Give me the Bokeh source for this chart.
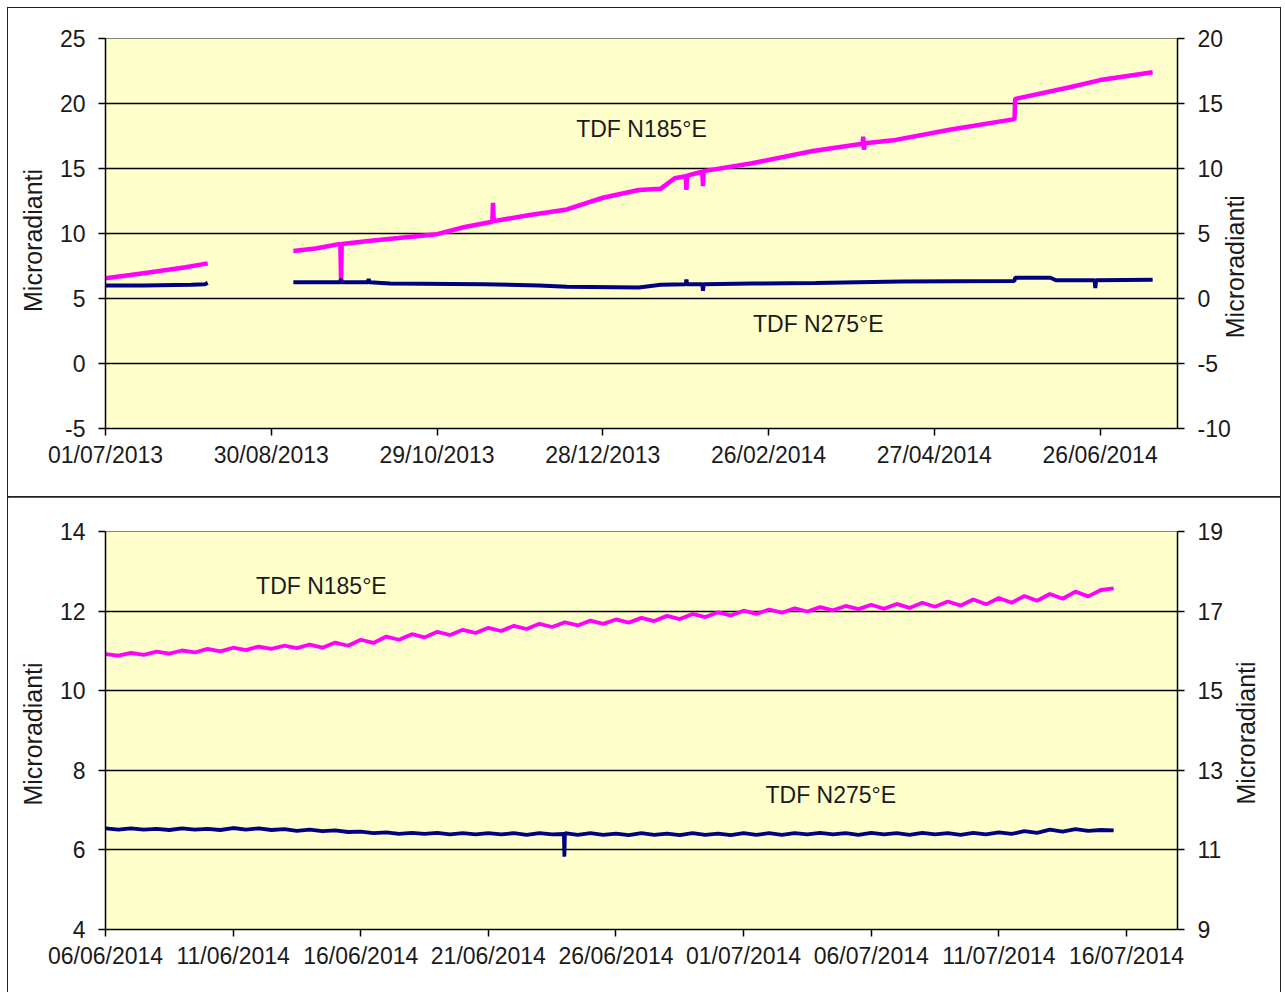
import math
import numpy as np
import pandas as pd
from bokeh.plotting import figure
from bokeh.models import (Range1d, LinearAxis, FixedTicker, DatetimeTickFormatter, Label,
                          ColumnDataSource, Spacer)
from bokeh.layouts import column, row
from bokeh.embed import file_html
from bokeh.resources import INLINE

nan = float("nan")

# ---------------- data: top panel (01/07/2013 - 15/07/2014) ----------------
top_tick_labels = ["01/07/2013", "30/08/2013", "29/10/2013", "28/12/2013",
                   "26/02/2014", "27/04/2014", "26/06/2014"]
top_left_ticks = [-5, 0, 5, 10, 15, 20, 25]
top_right_ticks = [-10, -5, 0, 5, 10, 15, 20]

top_n185_dates = ["2013-07-01", "2013-07-10", "2013-07-20", "2013-07-30", "2013-08-07",
                  "2013-08-08",
                  "2013-09-07", "2013-09-15", "2013-09-24 00:00", "2013-09-24 06:00", "2013-09-24 12:00",
                  "2013-10-05", "2013-10-15", "2013-10-29", "2013-11-08",
                  "2013-11-18 00:00", "2013-11-18 06:00", "2013-11-18 12:00",
                  "2013-12-01", "2013-12-15", "2013-12-28", "2014-01-10", "2014-01-18", "2014-01-23",
                  "2014-01-27 00:00", "2014-01-27 06:00", "2014-01-27 12:00",
                  "2014-02-02 00:00", "2014-02-02 06:00", "2014-02-02 12:00",
                  "2014-02-20", "2014-03-14",
                  "2014-04-01 00:00", "2014-04-01 06:00", "2014-04-01 12:00", "2014-04-01 18:00",
                  "2014-04-13", "2014-05-03", "2014-05-26 00:00", "2014-05-26 06:00",
                  "2014-06-15", "2014-06-26", "2014-07-15"]
top_n185_vals = [6.55, 6.8, 7.1, 7.4, 7.7,
                 nan,
                 8.65, 8.85, 9.2, 6.4, 9.2,
                 9.45, 9.65, 9.95, 10.5,
                 10.9, 12.35, 10.95,
                 11.4, 11.85, 12.75, 13.35, 13.45, 14.25,
                 14.4, 13.35, 14.45,
                 14.75, 13.65, 14.8,
                 15.4, 16.35,
                 16.9, 17.45, 16.45, 16.95,
                 17.2, 18.0, 18.8, 20.35,
                 21.25, 21.8, 22.4]

top_n275_dates = ["2013-07-01", "2013-07-15", "2013-08-01", "2013-08-06", "2013-08-07",
                  "2013-08-08",
                  "2013-09-07", "2013-09-24 00:00", "2013-09-24 06:00", "2013-09-24 12:00",
                  "2013-10-04 00:00", "2013-10-04 06:00", "2013-10-04 12:00",
                  "2013-10-12", "2013-11-15", "2013-12-05", "2013-12-15", "2014-01-10", "2014-01-18",
                  "2014-01-27 00:00", "2014-01-27 06:00", "2014-01-27 12:00",
                  "2014-02-02 00:00", "2014-02-02 06:00", "2014-02-02 12:00",
                  "2014-02-20", "2014-03-15", "2014-04-15", "2014-05-26 00:00", "2014-05-26 06:00",
                  "2014-06-08", "2014-06-10",
                  "2014-06-24 00:00", "2014-06-24 06:00", "2014-06-24 12:00", "2014-07-15"]
top_n275_vals = [1.0, 1.0, 1.05, 1.1, 1.2,
                 nan,
                 1.25, 1.25, 1.5, 1.25,
                 1.25, 1.5, 1.25,
                 1.15, 1.1, 1.0, 0.9, 0.85, 1.05,
                 1.1, 1.45, 1.1,
                 1.1, 0.6, 1.1,
                 1.15, 1.2, 1.3, 1.35, 1.6,
                 1.6, 1.4,
                 1.4, 0.8, 1.4, 1.45]

# ---------------- data: bottom panel (06/06/2014 - 15/07/2014, every 12 h) ----------------
bot_tick_labels = ["06/06/2014", "11/06/2014", "16/06/2014", "21/06/2014", "26/06/2014",
                   "01/07/2014", "06/07/2014", "11/07/2014", "16/07/2014"]
bot_left_ticks = [4, 6, 8, 10, 12, 14]
bot_right_ticks = [9, 11, 13, 15, 17, 19]
bot_start = "2014-06-06 00:00"

bot_n185_vals = [10.92, 10.88, 10.95, 10.90, 10.98, 10.93, 11.01, 10.96, 11.05, 10.99,
                 11.08, 11.02, 11.11, 11.05, 11.13, 11.07, 11.16, 11.08, 11.21, 11.13,
                 11.28, 11.20, 11.36, 11.28, 11.42, 11.34, 11.48, 11.40, 11.53, 11.45,
                 11.58, 11.50, 11.63, 11.55, 11.68, 11.60, 11.72, 11.64, 11.76, 11.68,
                 11.79, 11.71, 11.83, 11.75, 11.88, 11.80, 11.93, 11.85, 11.97, 11.89,
                 12.01, 11.93, 12.04, 11.96, 12.07, 11.99, 12.10, 12.02, 12.13, 12.05,
                 12.16, 12.06, 12.18, 12.08, 12.21, 12.11, 12.24, 12.14, 12.29, 12.17,
                 12.33, 12.21, 12.38, 12.26, 12.43, 12.31, 12.49, 12.37, 12.53, 12.57]

bot_n275_vals = [11.54, 11.51, 11.54, 11.51, 11.53, 11.50, 11.54, 11.51, 11.53, 11.50,
                 11.55, 11.51, 11.54, 11.50, 11.52, 11.48, 11.51, 11.47, 11.49, 11.45,
                 11.46, 11.42, 11.44, 11.40, 11.43, 11.40, 11.43, 11.39, 11.42, 11.39,
                 11.42, 11.39, 11.42, 11.38, 11.42, 11.39, 11.42, 11.38, 11.42, 11.38,
                 11.41, 11.37, 11.42, 11.38, 11.41, 11.37, 11.42, 11.38, 11.41, 11.37,
                 11.42, 11.38, 11.42, 11.38, 11.42, 11.39, 11.43, 11.39, 11.42, 11.38,
                 11.43, 11.39, 11.42, 11.38, 11.43, 11.39, 11.42, 11.38, 11.43, 11.39,
                 11.44, 11.40, 11.47, 11.43, 11.51, 11.46, 11.52, 11.48, 11.50, 11.49]
bot_n275_spike_dates = ["2014-06-23 23:00", "2014-06-23 23:30"]
bot_n275_spike_vals = [11.40, 10.83]

AXIS_TITLE = "Microradianti"

# ---------------- styling ----------------
FONT = "Liberation Sans"
TXT = "#1a1a1a"
BG = "#FFFFCC"
MAGENTA = "#FF00FF"
NAVY = "#000080"
FS = "23px"
FS_TITLE = "25px"
NB = "\u00a0"   # padding used to nudge an axis title along its axis


def to_dt(strings, fmt="ISO8601"):
    return list(pd.to_datetime(strings, format=fmt))


def ms(strings, fmt="ISO8601"):
    return [(t - pd.Timestamp("1970-01-01")) / pd.Timedelta(milliseconds=1)
            for t in to_dt(strings, fmt)]


def style_axis(ax, ticks):
    ax.ticker = FixedTicker(ticks=ticks)
    ax.axis_line_color = "black"
    ax.axis_line_width = 1.5
    ax.major_tick_line_color = "black"
    ax.major_tick_line_width = 1.5
    ax.major_tick_out = 7
    ax.major_tick_in = 0
    ax.minor_tick_line_color = None
    ax.major_label_text_font = FONT
    ax.major_label_text_font_size = FS
    ax.major_label_text_color = TXT
    ax.axis_label_text_font = FONT
    ax.axis_label_text_font_size = FS_TITLE
    ax.axis_label_text_font_style = "normal"
    ax.axis_label_text_color = TXT


def hyphen_overrides(ticks):
    return {t: "-%d" % abs(t) for t in ticks if t < 0}


def make_panel(width, height, borders, xr, yr, yr2, lticks, rticks, xtick_labels,
               lstand, lpad, right_title, css):
    p = figure(width=width, height=height, x_axis_type="datetime",
               output_backend="svg", toolbar_location=None,
               x_range=Range1d(*xr), y_range=Range1d(*yr),
               min_border_left=borders[0], min_border_right=borders[1],
               min_border_top=borders[2], min_border_bottom=borders[3])
    p.extra_y_ranges = {"r": Range1d(*yr2)}
    p.background_fill_color = BG
    p.border_fill_color = "white"
    p.outline_line_color = "#8a8a70"
    p.outline_line_width = 1
    p.xgrid.grid_line_color = None
    p.ygrid.grid_line_color = "black"
    p.ygrid.grid_line_width = 1.5
    p.ygrid.ticker = FixedTicker(ticks=lticks)

    xa = p.xaxis[0]
    style_axis(xa, ms(xtick_labels, "%d/%m/%Y"))
    xa.formatter = DatetimeTickFormatter(
        milliseconds="%d/%m/%Y", seconds="%d/%m/%Y", minsec="%d/%m/%Y", minutes="%d/%m/%Y",
        hourmin="%d/%m/%Y", hours="%d/%m/%Y", days="%d/%m/%Y", months="%d/%m/%Y",
        years="%d/%m/%Y")
    xa.major_label_standoff = 6

    ya = p.yaxis[0]
    style_axis(ya, lticks)
    ya.major_label_overrides = hyphen_overrides(lticks)
    ya.axis_label = AXIS_TITLE + NB * lpad
    ya.major_label_standoff = 13
    ya.axis_label_standoff = lstand

    ra = LinearAxis(y_range_name="r")
    style_axis(ra, rticks)
    ra.major_label_overrides = hyphen_overrides(rticks)
    ra.major_label_standoff = 13
    if "axis_label_align" in LinearAxis.properties():
        # title reads bottom-to-top, anchored at the bottom of the axis and padded upward
        ra.axis_label_orientation = math.pi / 2
        ra.axis_label_align = "start"
        ra.axis_label = NB * right_title["start_pad"] + AXIS_TITLE
        ra.axis_label_standoff = right_title["start_standoff"]
    else:
        ra.axis_label = NB * right_title["center_pad"] + AXIS_TITLE
        ra.axis_label_standoff = right_title["center_standoff"]
    p.add_layout(ra, "right")
    p.styles = css
    return p


# top panel
p1 = make_panel(1272, 489, (97, 103, 30, 69),
                (ms(["2013-07-01"])[0], ms(["2014-07-24"])[0]), (-5, 25), (-10, 20),
                top_left_ticks, top_right_ticks, top_tick_labels, 10, 2,
                dict(start_pad=13, start_standoff=1, center_pad=11, center_standoff=-12),
                {"outline": "1px solid #222"})
src1a = ColumnDataSource(dict(x=to_dt(top_n185_dates), y=top_n185_vals))
src1b = ColumnDataSource(dict(x=to_dt(top_n275_dates), y=top_n275_vals))
p1.line("x", "y", source=src1a, line_color=MAGENTA, line_width=4.5)
p1.line("x", "y", source=src1b, line_color=NAVY, line_width=4.0, y_range_name="r")
p1.add_layout(Label(x=ms(["2014-01-11"])[0], y=18.07, text="TDF N185°E",
                    text_align="center", text_baseline="middle", text_font=FONT,
                    text_font_size=FS, text_color=TXT))
p1.add_layout(Label(x=ms(["2014-03-16"])[0], y=-1.93, y_range_name="r", text="TDF N275°E",
                    text_align="center", text_baseline="middle", text_font=FONT,
                    text_font_size=FS, text_color=TXT))

# bottom panel
bot_times = list(pd.date_range(bot_start, periods=len(bot_n185_vals), freq="12h"))
n275_t = bot_times + to_dt(bot_n275_spike_dates)
n275_v = bot_n275_vals + bot_n275_spike_vals
order = np.argsort(np.array(n275_t, dtype="datetime64[ns]"))
n275_t = [n275_t[i] for i in order]
n275_v = [n275_v[i] for i in order]

p2 = make_panel(1272, 495, (97, 98, 34, 63),
                (ms(["2014-06-06"])[0], ms(["2014-07-18"])[0]), (4, 14), (9, 19),
                bot_left_ticks, bot_right_ticks, bot_tick_labels, 10, 1,
                dict(start_pad=18, start_standoff=20, center_pad=1, center_standoff=9),
                {"box-shadow": "-1px 0 0 #222, 1px 0 0 #222, 0 -1px 0 #222"})
src2a = ColumnDataSource(dict(x=bot_times, y=bot_n185_vals))
src2b = ColumnDataSource(dict(x=n275_t, y=n275_v))
p2.line("x", "y", source=src2a, line_color=MAGENTA, line_width=3.8)
p2.line("x", "y", source=src2b, line_color=NAVY, line_width=3.8, y_range_name="r")
p2.add_layout(Label(x=ms(["2014-06-14 11:00"])[0], y=12.64, text="TDF N185°E",
                    text_align="center", text_baseline="middle", text_font=FONT,
                    text_font_size=FS, text_color=TXT))
p2.add_layout(Label(x=ms(["2014-07-04 10:00"])[0], y=12.37, y_range_name="r", text="TDF N275°E",
                    text_align="center", text_baseline="middle", text_font=FONT,
                    text_font_size=FS, text_color=TXT))

layout = column(Spacer(height=8),
                row(Spacer(width=8), column(p1, p2, spacing=0), spacing=0),
                spacing=0)
open("out.html", "w").write(file_html(layout, INLINE))
